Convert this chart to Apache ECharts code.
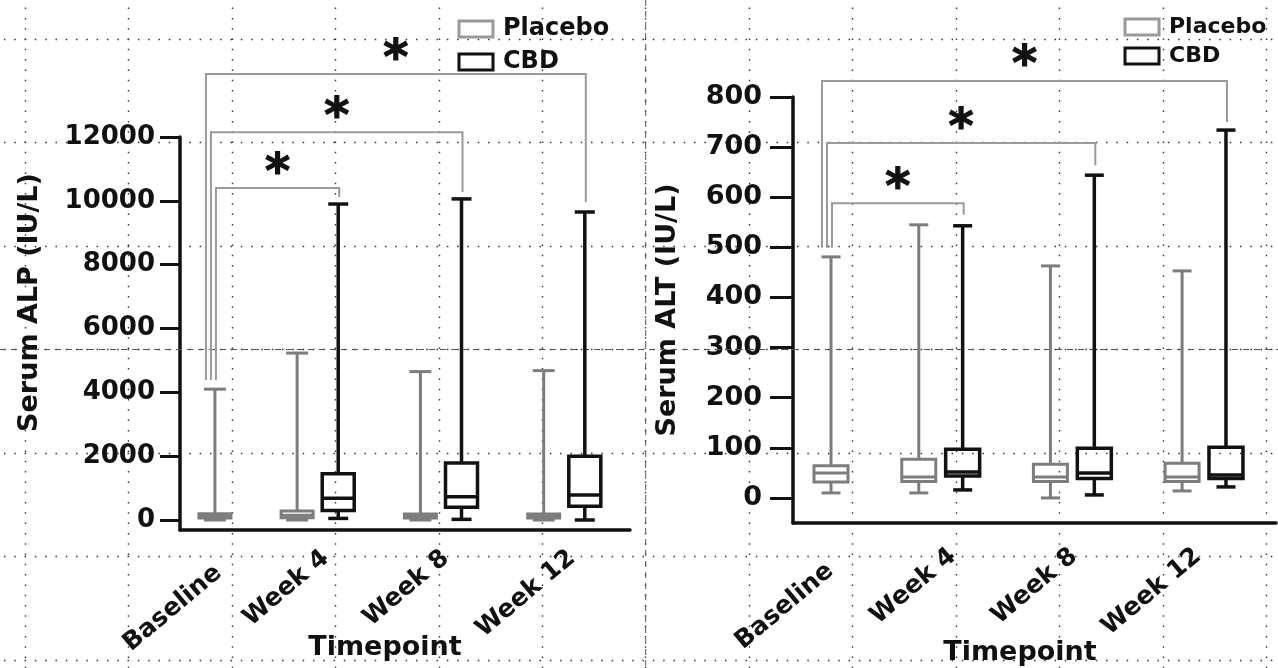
<!DOCTYPE html>
<html>
<head>
<meta charset="utf-8">
<title>Serum ALP / ALT by timepoint</title>
<script src="https://cdn.jsdelivr.net/npm/echarts@6/dist/echarts.min.js"></script>
<style>
  html, body { margin: 0; padding: 0; background: #fff; }
  #chart { width: 1278px; height: 668px; }
</style>
</head>
<body>
<div id="chart"></div>
<script>
// timepoints and the slot each box sits in along the x axis
const timepoints = ['Baseline', 'Week 4', 'Week 8', 'Week 12']
const alpLabelSlot = [0.1, 2.7, 5.62, 8.69]
const altLabelSlot = [0, 2.78, 5.54, 8.36]
const placeboSlot = [0, 2, 5, 8]
const cbdSlot = [3, 6, 9] // CBD only from week 4 on

// box stats: [min, Q1, median, Q3, max]
const alpPlacebo = [
  [0, 60, 120, 200, 4100],
  [0, 70, 150, 280, 5230],
  [0, 60, 110, 190, 4650],
  [0, 60, 110, 190, 4680]
]
const alpCbd = [
  [50, 300, 680, 1450, 9900],
  [20, 400, 730, 1790, 10060],
  [0, 430, 780, 2000, 9650]
]
const altPlacebo = [
  [10, 32, 50, 64, 481],
  [10, 33, 42, 77, 545],
  [0, 33, 42, 67, 463],
  [14, 33, 42, 69, 453]
]
const altCbd = [
  [16, 44, 52, 97, 543],
  [6, 39, 50, 99, 644],
  [22, 39, 46, 101, 734]
]

const alpTicks = [0, 2000, 4000, 6000, 8000, 10000, 12000]
const altTicks = [0, 100, 200, 300, 400, 500, 600, 700, 800]

// significance brackets: baseline -> CBD week 4 / 8 / 12
const alpBracketTop = [10400, 12150, 13970]
const alpBracketEnd = [10120, 10280, 9960]
const alpBracketStart = 4390
const altBracketTop = [588, 708, 832]
const altBracketEnd = [565, 664, 750]
const altBracketStart = 499

const GRAY = '#7d7d7d'
const BLACK = '#111'
const FONT = 'DejaVu Sans'

const toRows = (slots, stats) => stats.map((s, i) => [slots[i], ...s])
const bracketRows = (top, end, start) =>
  top.map((t, k) => [placeboSlot[0], cbdSlot[k], t, start, end[k], k])

const boxItem = (color, width, boxW, capW) => (params, api) => {
  const x = api.value(0)
  const ys = [1, 2, 3, 4, 5].map(i => api.coord([x, api.value(i)])[1])
  const cx = api.coord([x, 0])[0]
  const [lo, q1, md, q3, hi] = ys
  const style = { stroke: color, lineWidth: width, fill: null }
  const line = (x1, y1, x2, y2) => ({ type: 'line', shape: { x1, y1, x2, y2 }, style })
  return {
    type: 'group',
    children: [
      { type: 'rect', shape: { x: cx - boxW / 2, y: q3, width: boxW, height: q1 - q3 }, style },
      line(cx - boxW / 2, md, cx + boxW / 2, md),
      line(cx, q3, cx, hi),
      line(cx, q1, cx, lo),
      line(cx - capW / 2, hi, cx + capW / 2, hi),
      line(cx - capW / 2, lo, cx + capW / 2, lo)
    ]
  }
}

const bracketItem = (params, api) => {
  const k = api.value(5)
  const a = api.coord([api.value(0), api.value(2)])
  const b = api.coord([api.value(1), api.value(2)])
  const aBot = api.coord([api.value(0), api.value(3)])[1]
  const bBot = api.coord([api.value(1), api.value(4)])[1]
  const xl = a[0] + 1 - 5 * k
  const xr = b[0] + 1
  return {
    type: 'group',
    children: [
      {
        type: 'polyline',
        shape: { points: [[xl, aBot], [xl, a[1]], [xr, a[1]], [xr, bBot]] },
        style: { stroke: '#9a9a9a', lineWidth: 2, fill: null }
      },
      {
        type: 'text',
        x: (xl + xr) / 2,
        y: a[1] - 14,
        style: {
          text: '*', fontFamily: FONT, fontWeight: 'bold', fontSize: 48,
          fill: BLACK, stroke: BLACK, lineWidth: 1.2,
          align: 'center', verticalAlign: 'middle'
        }
      }
    ]
  }
}

// page background: dotted grid with dashed centre lines
const pageLines = (params, api) => {
  const p = api.coord([api.value(0), api.value(1)])
  const style = { stroke: '#555', lineWidth: 1, lineDash: [6, 5], fill: null }
  return {
    type: 'group',
    children: [
      { type: 'line', shape: { x1: p[0], y1: 0, x2: p[0], y2: 668 }, style },
      { type: 'line', shape: { x1: 0, y1: p[1], x2: 1278, y2: p[1] }, style }
    ]
  }
}

const labelFont = size => ({ fontFamily: FONT, fontWeight: 'bold', fontSize: size, color: BLACK })
const axisLine = { onZero: false, lineStyle: { color: BLACK, width: 3.5 } }

// the baseline label sits a bit lower than the week labels
const xAxisFor = (gridIndex, min, max, slots, size, margin, gap, shift) => ({
  gridIndex, type: 'value', min, max,
  axisLine,
  axisTick: { show: false },
  splitLine: { show: false },
  axisLabel: {
    customValues: slots,
    formatter: v => {
      const i = slots.indexOf(v)
      return i === 0 ? `{first|${timepoints[i]}}` : timepoints[i]
    },
    rotate: 40, margin, ...labelFont(size),
    rich: { first: { ...labelFont(size), padding: [22, 10, 0, 0] } }
  },
  name: 'Timepoint',
  nameLocation: 'middle',
  nameGap: gap,
  nameMoveOverlap: false,
  nameTextStyle: { ...labelFont(27), padding: [0, shift, 0, 0] }
})

const yAxisFor = (gridIndex, min, max, ticks, size, tickLen, margin, name, gap, shift) => ({
  gridIndex, type: 'value', min, max,
  axisLine,
  axisTick: { customValues: ticks, length: tickLen, lineStyle: { color: BLACK, width: 3 } },
  axisLabel: { customValues: ticks, margin, formatter: v => String(v), ...labelFont(size) },
  splitLine: { show: false },
  name, nameLocation: 'middle', nameGap: gap,
  nameTextStyle: { ...labelFont(27), padding: [0, 0, 0, shift] }
})

const dotted = { show: true, lineStyle: { color: '#333', width: 1.4, type: [1.5, 8.8] } }
const hidden = { axisLine: { show: false }, axisTick: { show: false }, axisLabel: { show: false } }

const legendFor = (left, top, size, gap) => ({
  orient: 'vertical', left, top,
  itemWidth: 34, itemHeight: 16, itemGap: gap,
  selectedMode: false,
  textStyle: { ...labelFont(size), padding: [0, 0, 0, 5] },
  data: [
    { name: 'Placebo', icon: 'rect', itemStyle: { color: 'transparent', borderColor: '#9a9a9a', borderWidth: 3 } },
    { name: 'CBD', icon: 'rect', itemStyle: { color: 'transparent', borderColor: BLACK, borderWidth: 3 } }
  ]
})

const chart = echarts.init(document.getElementById('chart'))
chart.setOption({
  animation: false,
  backgroundColor: '#fff',
  grid: [
    { left: 180, right: 648, top: 137, bottom: 138, outerBoundsMode: 'none' },
    { left: 793, right: 2, top: 97, bottom: 145, outerBoundsMode: 'none' },
    { left: -78.45, top: -64.5, width: 1448.3, height: 828, outerBoundsMode: 'none' }
  ],
  xAxis: [
    xAxisFor(0, -0.85, 10.1, alpLabelSlot, 25, 25, 104, 40),
    xAxisFor(1, -0.866, 10.14, altLabelSlot, 25, 30, 116, 29),
    { gridIndex: 2, type: 'value', min: 0, max: 14, interval: 1, splitLine: dotted, ...hidden }
  ],
  yAxis: [
    yAxisFor(0, -313, 12000, alpTicks, 26, 20, 25, 'Serum ALP (IU/L)', 137, 62),
    yAxisFor(1, -50, 800, altTicks, 27, 23, 31, 'Serum ALT (IU/L)', 112, 0),
    { gridIndex: 2, type: 'value', min: 0, max: 8, interval: 1, inverse: true, splitLine: dotted, ...hidden }
  ],
  legend: [legendFor(452.5, 12, 24, 9), legendFor(1118.5, 11, 22, 7)],
  series: [
    { type: 'custom', name: 'page', xAxisIndex: 2, yAxisIndex: 2, silent: true, z: 1,
      data: [[7, 4]], renderItem: pageLines },
    { type: 'custom', name: 'Placebo', xAxisIndex: 0, yAxisIndex: 0, itemStyle: { color: GRAY },
      data: toRows(placeboSlot, alpPlacebo), renderItem: boxItem(GRAY, 3, 32, 22) },
    { type: 'custom', name: 'CBD', xAxisIndex: 0, yAxisIndex: 0, itemStyle: { color: BLACK },
      data: toRows(cbdSlot, alpCbd), renderItem: boxItem(BLACK, 3.5, 32, 20) },
    { type: 'custom', name: 'Placebo', xAxisIndex: 1, yAxisIndex: 1, itemStyle: { color: GRAY },
      data: toRows(placeboSlot, altPlacebo), renderItem: boxItem(GRAY, 3, 34, 19) },
    { type: 'custom', name: 'CBD', xAxisIndex: 1, yAxisIndex: 1, itemStyle: { color: BLACK },
      data: toRows(cbdSlot, altCbd), renderItem: boxItem(BLACK, 3.5, 34, 19) },
    { type: 'custom', name: 'alp-sig', xAxisIndex: 0, yAxisIndex: 0, silent: true,
      data: bracketRows(alpBracketTop, alpBracketEnd, alpBracketStart), renderItem: bracketItem },
    { type: 'custom', name: 'alt-sig', xAxisIndex: 1, yAxisIndex: 1, silent: true,
      data: bracketRows(altBracketTop, altBracketEnd, altBracketStart), renderItem: bracketItem }
  ]
})
</script>
</body>
</html>
